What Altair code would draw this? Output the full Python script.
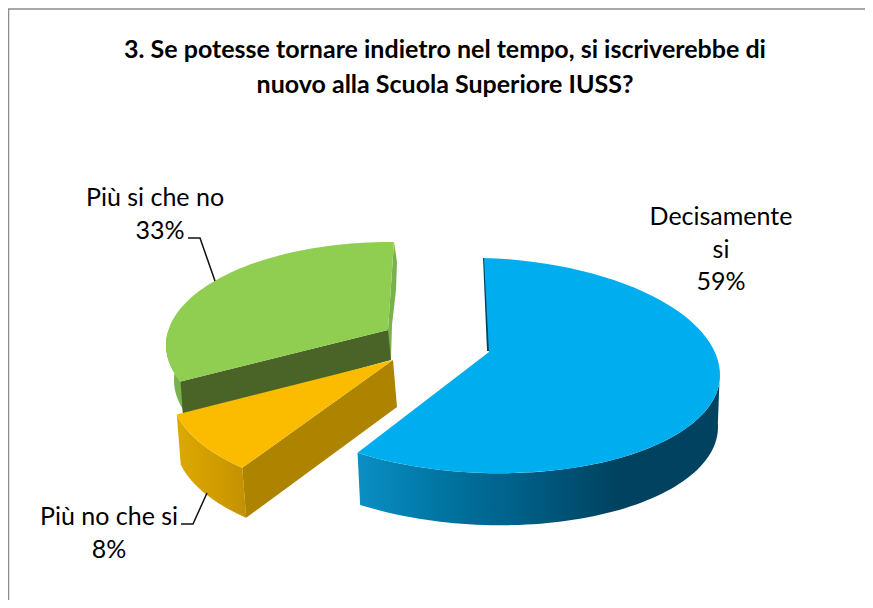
import math
import altair as alt
import pandas as pd

# ---- chart values ----
categories = ["Decisamente si", "Più no che si", "Più si che no"]
shares = [59, 8, 33]
title_lines = ["3. Se potesse tornare indietro nel tempo, si iscriverebbe di",
               "nuovo alla Scuola Superiore IUSS?"]
label_lines = {"Decisamente si": ["Decisamente", "si", "59%"],
               "Più no che si": ["Più no che si", "8%"],
               "Più si che no": ["Più si che no", "33%"]}

W, H = 857, 592
X = alt.X("x:Q", axis=None, scale=alt.Scale(domain=[8, 865], nice=False, zero=False))
Y = alt.Y("y:Q", axis=None, scale=alt.Scale(domain=[600, 8], nice=False, zero=False))

# slice start/end angles, clockwise from 12 o'clock, from the shares
edges = [0]
for s in shares:
    edges.append(edges[-1] + s * 3.6)
sweep = dict(zip(categories, zip(edges[:-1], edges[1:])))


def arc(a0, a1, cx, cy, rx, ry_up, ry_low=None, tilt=0.0, n=70):
    ry_low = ry_up if ry_low is None else ry_low
    pts = []
    for i in range(n + 1):
        t = math.radians(a0 + (a1 - a0) * i / n)
        dx = rx * math.sin(t)
        c = -math.cos(t)
        pts.append((cx + dx, cy + c * (ry_low if c > 0 else ry_up) + tilt * dx))
    return pts


def poly(pts, fill):
    df = pd.DataFrame({"x": [p[0] for p in pts], "y": [p[1] for p in pts],
                       "i": list(range(len(pts)))})
    return alt.Chart(df).mark_line(fill=fill, strokeWidth=0, interpolate="linear-closed").encode(
        x=X, y=Y, order="i:Q")


def grad(*stops):
    return alt.Gradient(gradient="linear", x1=0, x2=1, y1=0, y2=0,
                        stops=[alt.GradientStop(offset=o, color=c) for o, c in stops])


# green slice
g0, g1 = sweep["Più si che no"]
g_arc = dict(cx=390, cy=345, rx=224, ry_up=103)
g_top_arc = arc(g0 + 8, g1 + 1, **g_arc)
g_apex = (388, 330)
g_top = [g_apex] + g_top_arc
g_wall = arc(g0 + 8, 277, **g_arc) + arc(277, g0 + 8, 390, 380, 216, 103)
g_cut = [g_top_arc[0], g_apex, (391, 360), (183, 417)]
g_side = [(394, 242), (397, 262), (396, 290), (392, 325), (391, 358), (387, 358), (388, 330)]

# orange slice
o0, o1 = sweep["Più no che si"]
o_arc = dict(cx=395, cy=391, rx=224, ry_up=105)
o_top_arc = arc(o0 + 10.6, o1 + 15.8, **o_arc)
o_apex = (393, 360)
o_top = [o_apex] + o_top_arc
o_wall = o_top_arc + arc(o1 + 15.8, o0 + 10.6, 399, 441, 224, 105)
o_cut = [o_top_arc[0], o_apex, (397, 407), (o_wall[-1][0], o_wall[-1][1])]

# blue slice
b0, b1 = sweep["Decisamente si"]
b_arc = dict(cx=484, cy=368, rx=236, ry_up=110, ry_low=105, tilt=0.03)
b_top_arc = arc(b0, b1, **b_arc)
b_apex = (489, 352)
b_top = [b_apex] + b_top_arc
b_wall = arc(88, b1, **b_arc) + arc(b1, 88, 485, 420, 233, 110, 105, 0.03)
b_sliver = [(483, 258), (485, 258), (490, 351), (487, 351)]

layers = [
    poly(g_wall, "#79b14c"),
    poly(g_side, "#79b14c"),
    poly(g_cut, "#4a6428"),
    poly(g_top, "#8fce50"),
    poly(o_wall, grad((0, "#dca800"), (0.5, "#d29e00"), (1, "#c29100"))),
    poly(o_cut, "#ad8300"),
    poly(o_top, "#fbbc00"),
    poly(b_sliver, "#00445f"),
    poly(b_wall, grad((0, "#0a8fc4"), (0.25, "#00739f"), (0.5, "#005a80"),
                      (0.72, "#00425f"), (1, "#00425f"))),
    poly(b_top, "#00aeef"),
]

# leader lines
for pts in ([(188, 238), (200, 238), (215, 281)], [(181, 524), (193, 524), (207, 493)]):
    df = pd.DataFrame({"x": [p[0] for p in pts], "y": [p[1] for p in pts], "i": [0, 1, 2]})
    layers.append(alt.Chart(df).mark_line(color="#111111", strokeWidth=1.5).encode(x=X, y=Y, order="i:Q"))

# chart frame
fr = pd.DataFrame({"x": [8.5, 8.5, 865], "y": [600, 9, 9], "i": [0, 1, 2]})
layers.append(alt.Chart(fr).mark_line(color="#8c8c8c", strokeWidth=1.5).encode(x=X, y=Y, order="i:Q"))

# texts
t_df = pd.DataFrame({"x": [445, 445], "y": [50, 85], "t": title_lines})
layers.append(alt.Chart(t_df).mark_text(font="Lato", fontWeight="bold", fontSize=25, color="#000000",
                                        align="center", baseline="middle").encode(x=X, y=Y, text="t:N"))

anchors = {"Decisamente si": ([721, 721, 721], [217, 250, 282]),
           "Più no che si": ([109, 109], [517, 550]),
           "Più si che no": ([155, 160], [198, 231])}
rows = []
for c in categories:
    xs, ys = anchors[c]
    for line, xx, yy in zip(label_lines[c], xs, ys):
        rows.append({"x": xx, "y": yy, "t": line})
layers.append(alt.Chart(pd.DataFrame(rows)).mark_text(font="Lato", fontSize=25, color="#000000",
                                                      align="center", baseline="middle").encode(x=X, y=Y, text="t:N"))

chart = alt.layer(*layers).properties(
    width=W, height=H, padding=0, autosize=alt.AutoSizeParams(type="none"), background="#ffffff"
).configure_view(stroke=None)

chart.save("out.html", embed_options={"renderer": "svg", "actions": False})
